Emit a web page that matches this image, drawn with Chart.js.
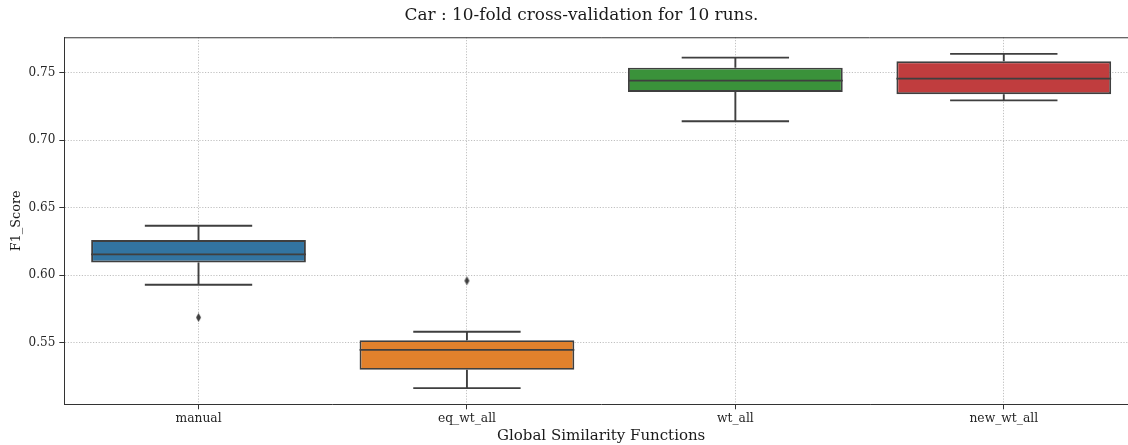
<!DOCTYPE html>
<html>
<head>
<meta charset="utf-8">
<script src="https://cdn.jsdelivr.net/npm/chart.js@4.4.1/dist/chart.umd.min.js"></script>
<style>
  html, body { margin: 0; padding: 0; background: #ffffff; }
  #wrap { width: 1128px; height: 445px; overflow: hidden; position: relative; }
  canvas { display: block; }
</style>
</head>
<body>
<div id="wrap"><canvas id="c" width="1163" height="445"></canvas></div>
<script>
// Box-plot summaries of F1 scores per global similarity function
const categories  = ['manual', 'eq_wt_all', 'wt_all', 'new_wt_all'];
const q1          = [0.6095, 0.5299, 0.7357, 0.7340];
const q3          = [0.6260, 0.5519, 0.7537, 0.7584];
const medians     = [0.6154, 0.5447, 0.7441, 0.7456];
const whiskerLow  = [0.5929, 0.5164, 0.7140, 0.7295];
const whiskerHigh = [0.6366, 0.5581, 0.7611, 0.7639];
const outliers    = [0.5687, 0.5959, null, null];
const yTicks      = [0.55, 0.60, 0.65, 0.70, 0.75];

const boxColors = ['#3274a1', '#e1812c', '#3a923a', '#c03d3e'];
const lineGray = '#3f3f3f';
const FONT = "'DejaVu Serif', serif";

// thin diamond marker for outliers
function diamondMarker() {
  const w = 7, h = 10;
  const cv = document.createElement('canvas');
  cv.width = w; cv.height = h;
  const g = cv.getContext('2d');
  g.fillStyle = lineGray;
  g.beginPath();
  g.moveTo(w / 2, 0.5);
  g.lineTo(w - 1, h / 2);
  g.lineTo(w / 2, h - 0.5);
  g.lineTo(1, h / 2);
  g.closePath();
  g.fill();
  return cv;
}

// whiskers, caps and median lines drawn over each box
const boxLines = {
  id: 'boxLines',
  afterDatasetsDraw(chart) {
    const ctx = chart.ctx;
    const y = chart.scales.y;
    const meta = chart.getDatasetMeta(0);
    ctx.save();
    ctx.strokeStyle = lineGray;
    ctx.lineWidth = 1.9;
    ctx.lineCap = 'butt';
    meta.data.forEach((bar, i) => {
      const cx = bar.x;
      const half = bar.width / 2;
      const cap = half / 2;
      const pLo = y.getPixelForValue(whiskerLow[i]);
      const pHi = y.getPixelForValue(whiskerHigh[i]);
      const pQ1 = y.getPixelForValue(q1[i]);
      const pQ3 = y.getPixelForValue(q3[i]);
      const pMed = y.getPixelForValue(medians[i]);
      ctx.beginPath();
      ctx.moveTo(cx, pQ3); ctx.lineTo(cx, pHi);
      ctx.moveTo(cx, pQ1); ctx.lineTo(cx, pLo);
      ctx.moveTo(cx - cap, pHi); ctx.lineTo(cx + cap, pHi);
      ctx.moveTo(cx - cap, pLo); ctx.lineTo(cx + cap, pLo);
      ctx.moveTo(cx - half, pMed); ctx.lineTo(cx + half, pMed);
      ctx.stroke();
    });
    ctx.restore();
  }
};

// centre the figure title across the whole canvas width
const titleSpan = {
  id: 'titleSpan',
  afterLayout(chart) {
    const t = chart.titleBlock;
    if (t) {
      t.left = 0;
      t.right = chart.width;
      t.width = chart.width;
    }
  }
};

// top and right frame lines
const frame = {
  id: 'frame',
  afterDraw(chart) {
    const { ctx, chartArea: a } = chart;
    ctx.save();
    ctx.strokeStyle = '#333333';
    ctx.lineWidth = 1;
    ctx.beginPath();
    ctx.moveTo(a.left, a.top + 0.5);
    ctx.lineTo(a.right, a.top + 0.5);
    ctx.lineTo(a.right, a.bottom);
    ctx.stroke();
    ctx.restore();
  }
};

new Chart(document.getElementById('c'), {
  type: 'bar',
  data: {
    labels: categories,
    datasets: [
      {
        type: 'bar',
        data: categories.map((_, i) => [q1[i], q3[i]]),
        backgroundColor: boxColors,
        borderColor: lineGray,
        borderWidth: 1.9,
        borderSkipped: false,
        barPercentage: 0.8,
        categoryPercentage: 1.0
      },
      {
        type: 'line',
        data: outliers,
        showLine: false,
        pointStyle: diamondMarker(),
        pointRadius: 4,
        pointHoverRadius: 4
      }
    ]
  },
  options: {
    responsive: false,
    animation: false,
    layout: { padding: { left: 0, right: 25, top: 0, bottom: 0 } },
    plugins: {
      legend: { display: false },
      tooltip: { enabled: false },
      title: {
        display: true,
        text: 'Car : 10-fold cross-validation for 10 runs.',
        color: '#1a1a1a',
        font: { family: FONT, size: 16.9, weight: 'normal' },
        padding: { top: 5.9, bottom: 11.1 }
      }
    },
    scales: {
      x: {
        offset: true,
        z: 1,
        afterFit: (s) => { s.height = 40.7; },
        grid: {
          offset: false,
          color: '#b0b0b0',
          lineWidth: 0.8,
          tickLength: 5,
          tickColor: '#333333',
          tickWidth: 1
        },
        border: { display: true, color: '#333333', width: 1, dash: [1.2, 1.6] },
        ticks: {
          color: '#262626',
          font: { family: FONT, size: 12.3 },
          padding: 2,
          maxRotation: 0
        },
        title: {
          display: true,
          text: 'Global Similarity Functions',
          color: '#1a1a1a',
          font: { family: FONT, size: 15 },
          padding: { top: 0, bottom: 0 }
        }
      },
      y: {
        min: 0.5044,
        max: 0.7762,
        z: 1,
        afterFit: (s) => { s.width = 64.3; },
        afterBuildTicks: (s) => { s.ticks = yTicks.map(v => ({ value: v })); },
        grid: {
          color: '#b0b0b0',
          lineWidth: 0.8,
          tickLength: 5,
          tickColor: '#333333',
          tickWidth: 1
        },
        border: { display: true, color: '#333333', width: 1, dash: [1.2, 1.6] },
        ticks: {
          color: '#262626',
          font: { family: FONT, size: 12 },
          padding: 4,
          callback: (v) => Number(v).toFixed(2)
        },
        title: {
          display: true,
          text: 'F1_Score',
          color: '#1a1a1a',
          font: { family: FONT, size: 12.8 },
          padding: { top: 8.6, bottom: 0 }
        }
      }
    }
  },
  plugins: [boxLines, titleSpan, frame]
});
</script>
</body>
</html>
